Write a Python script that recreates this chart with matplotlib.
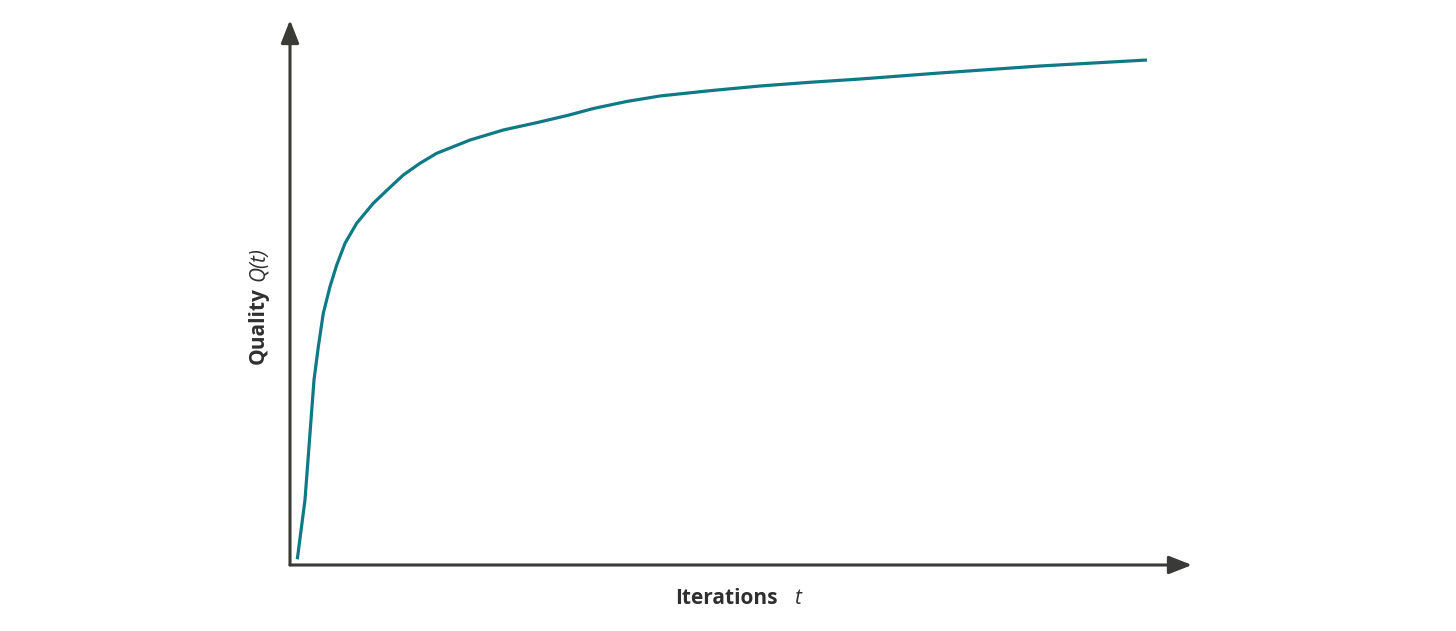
import numpy as np
import matplotlib
matplotlib.use("Agg")
import matplotlib.pyplot as plt

# values (iterations t, quality Q), both on a 0..100 scale
iters = [0.81, 1.66, 2.22, 2.66, 3.14, 3.69, 4.43, 5.18, 6.10, 7.39, 9.23, 11.01,
         12.56, 14.41, 16.26, 19.96, 23.65, 27.35, 30.96, 33.63, 37.33, 41.02,
         46.56, 52.11, 57.65, 63.19, 72.06, 83.15, 95.01]
quality = [1.05, 11.93, 24.22, 33.94, 40.06, 46.18, 51.06, 55.05, 59.03, 62.70, 66.37, 69.17,
           71.56, 73.71, 75.54, 77.98, 79.82, 81.16, 82.57, 83.76, 85.05, 86.06,
           87.03, 87.89, 88.57, 89.17, 90.28, 91.56, 92.66]

W, H = 1456, 631
teal = "#0f7a85"
axcol = "#3a3a36"
txtcol = "#2f2f2f"

fig = plt.figure(figsize=(W / 100, H / 100), dpi=100)
ax = fig.add_axes([290 / W, 1 - 565 / H, 902 / W, 545 / H])
ax.set_xlim(0, 100)
ax.set_ylim(0, 100)
for s in ax.spines.values():
    s.set_visible(False)
ax.set_xticks([])
ax.set_yticks([])
ax.patch.set_alpha(0)

ax.plot(iters, quality, color=teal, lw=2.3, solid_joinstyle="round",
        solid_capstyle="butt", zorder=3)

# axis arrows
arrow = dict(arrowstyle="-|>,head_length=1.4,head_width=0.55", color=axcol, lw=2.2,
             shrinkA=0, shrinkB=0)
ax.annotate("", xy=(1.0, 0), xytext=(0, 0), xycoords="axes fraction", arrowprops=arrow)
ax.annotate("", xy=(0, 1.0), xytext=(0, 0), xycoords="axes fraction", arrowprops=arrow)

# labels
fs = 15
fig.text(778 / W, 1 - 599 / H, "Iterations", ha="right", va="center",
         fontsize=fs, fontweight="bold", color=txtcol, family="Open Sans")
fig.text(794 / W, 1 - 599 / H, "t", ha="left", va="center",
         fontsize=fs, style="italic", color=txtcol, family="Open Sans")

fig.text(258 / W, 1 - 287 / H, "Quality", ha="right", va="center", rotation=90,
         rotation_mode="anchor", fontsize=fs, fontweight="bold", color=txtcol, family="Open Sans")
fig.text(258 / W, 1 - 281 / H, "Q(t)", ha="left", va="center", rotation=90,
         rotation_mode="anchor", fontsize=fs, style="italic", color=txtcol, family="Open Sans")

fig.savefig("out.png", dpi=100, facecolor="white")
